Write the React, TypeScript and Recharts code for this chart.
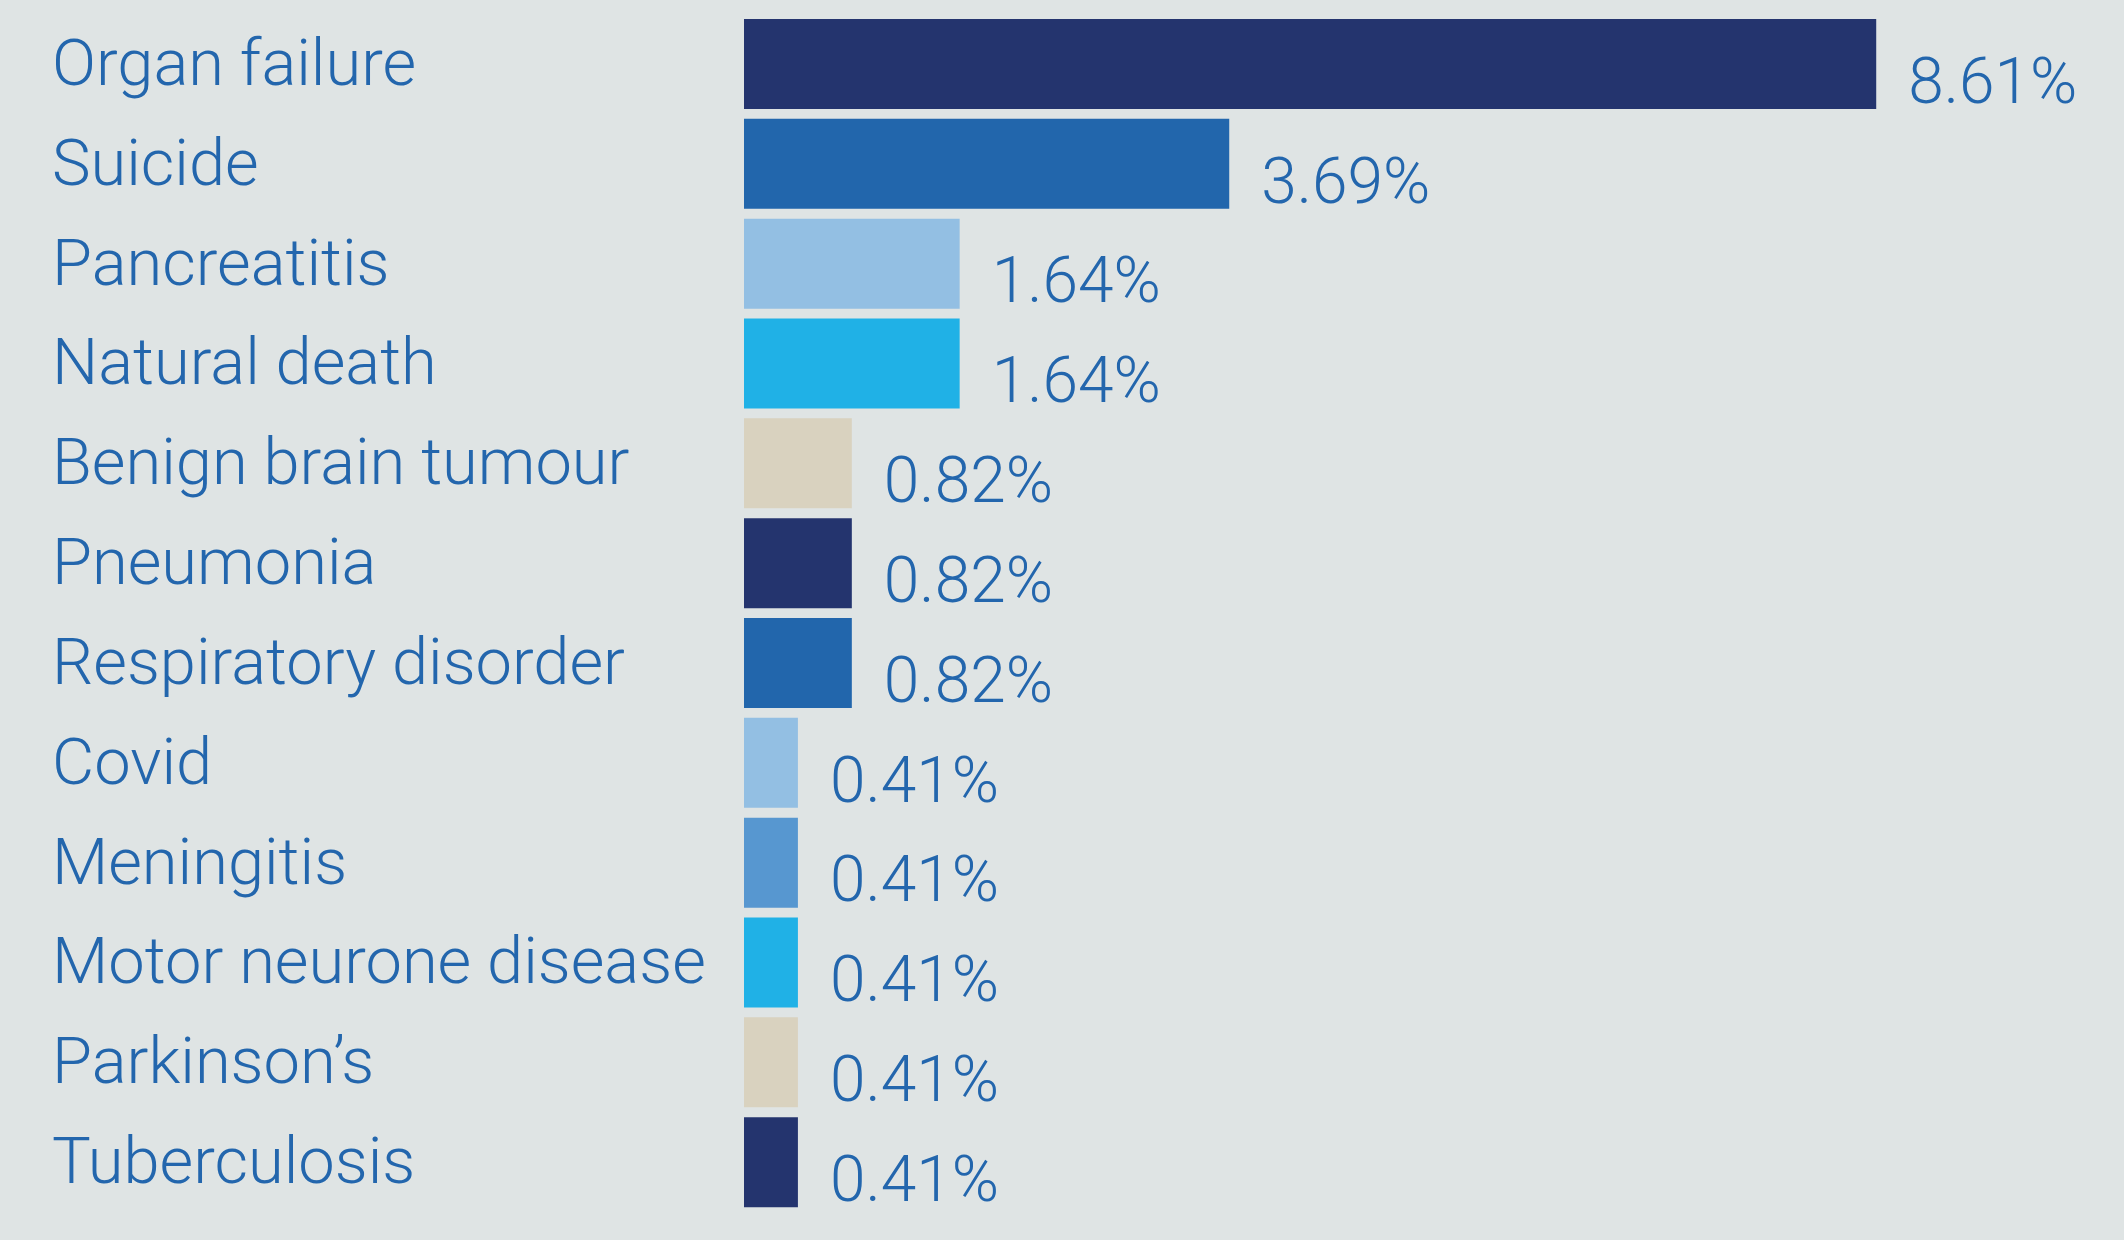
import React from 'react';
import { BarChart, Bar, XAxis, YAxis, Cell, LabelList } from 'recharts';

const causes = [
  'Organ failure',
  'Suicide',
  'Pancreatitis',
  'Natural death',
  'Benign brain tumour',
  'Pneumonia',
  'Respiratory disorder',
  'Covid',
  'Meningitis',
  'Motor neurone disease',
  'Parkinson\u2019s',
  'Tuberculosis',
];

const shares = [8.61, 3.69, 1.64, 1.64, 0.82, 0.82, 0.82, 0.41, 0.41, 0.41, 0.41, 0.41];

const barColors = [
  '#24346E',
  '#2266AC',
  '#93BFE3',
  '#20B1E6',
  '#D9D2BF',
  '#24346E',
  '#2266AC',
  '#93BFE3',
  '#5797D0',
  '#20B1E6',
  '#D9D2BF',
  '#24346E',
];

const TEXT_BLUE = '#2366AD';
const BG = '#DFE4E4';
const FONT = 'Roboto, "Noto Sans", sans-serif';

const data = causes.map((name, i) => ({ name, value: shares[i] }));

const CauseTick = (props: any) => {
  const { y, payload } = props;
  return (
    <text
      x={52}
      y={y - 2}
      dy="0.355em"
      textAnchor="start"
      fill={TEXT_BLUE}
      fontSize={65}
      fontWeight={300}
      fontFamily={FONT}
    >
      {payload.value}
    </text>
  );
};

const ValueLabel = (props: any) => {
  const { x, y, width, height, value } = props;
  return (
    <text
      x={x + width + 32}
      y={y + height / 2 + 16}
      dy="0.355em"
      textAnchor="start"
      fill={TEXT_BLUE}
      fontSize={64}
      fontWeight={300}
      fontFamily={FONT}
    >
      {`${Number(value).toFixed(2)}%`}
    </text>
  );
};

export default function App() {
  return (
    <div style={{ position: 'absolute', left: 0, top: 0, width: 2124, height: 1240, background: BG }}>
      <BarChart
        width={2124}
        height={1240}
        data={data}
        layout="vertical"
        margin={{ top: 14, right: 65, bottom: 28, left: 0 }}
        barCategoryGap="5%"
      >
        <XAxis type="number" domain={[0, 10]} hide />
        <YAxis
          type="category"
          dataKey="name"
          width={744}
          axisLine={false}
          tickLine={false}
          tick={<CauseTick />}
          interval={0}
        />
        <Bar dataKey="value" isAnimationActive={false}>
          {data.map((d, i) => (
            <Cell key={d.name} fill={barColors[i]} />
          ))}
          <LabelList dataKey="value" content={<ValueLabel />} />
        </Bar>
      </BarChart>
    </div>
  );
}
